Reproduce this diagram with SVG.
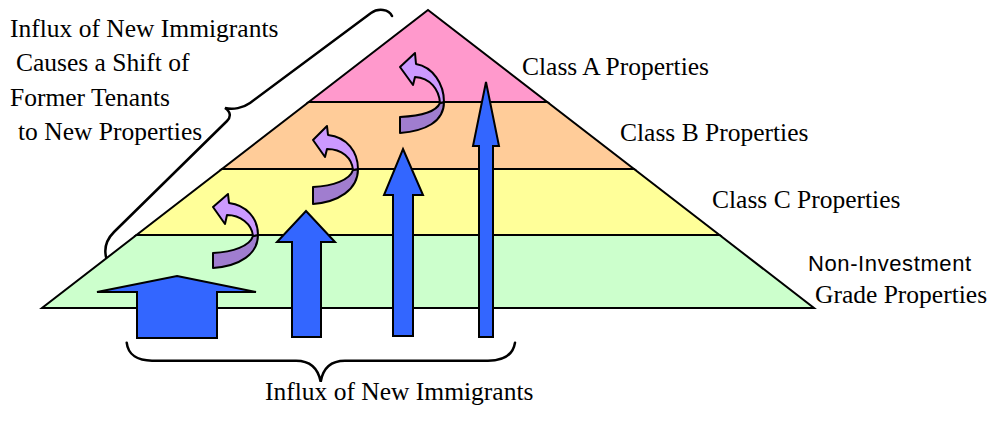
<svg xmlns="http://www.w3.org/2000/svg" width="990" height="435" viewBox="0 0 990 435">
<style>
.band{stroke:#000;stroke-width:2;stroke-linejoin:miter}
.blue{fill:#3366FF;stroke:#000;stroke-width:2;stroke-linejoin:miter}
.lite{fill:#CC99FF;stroke:#000;stroke-width:2;stroke-linejoin:round}
.dark{fill:#A07DCF;stroke:#000;stroke-width:2;stroke-linejoin:round}
.brace{fill:none;stroke:#000;stroke-width:2.5;stroke-linecap:round}
.t{font-family:"Liberation Serif","Times New Roman",serif;font-size:25.5px;fill:#000}
.s{font-family:"Liberation Sans",Arial,sans-serif;font-size:22px;fill:#000;letter-spacing:0.6px}
</style>
<rect width="990" height="435" fill="#fff"/>
<g id="pyramid">
<polygon id="band-a" class="band" fill="#FF99CC" points="428,10 547.2,102 308.8,102"/>
<polygon id="band-b" class="band" fill="#FFCC99" points="308.8,102 547.2,102 634,169 222,169"/>
<polygon id="band-c" class="band" fill="#FFFF99" points="222,169 634,169 719.5,235 136.5,235"/>
<polygon id="band-d" class="band" fill="#CCFFCC" points="136.5,235 719.5,235 814,308 42,308"/>
</g>
<g id="connectors">
<polygon class="blue" points="177,276 256,292 217,292 217,338 137,338 137,292 97,292"/>
<polygon class="blue" points="306,211 335,242 321,242 321,337 292,337 292,242 277,242"/>
<polygon class="blue" points="403,149 423,195 413,195 413,336 393,336 393,195 384,195"/>
<polygon class="blue" points="486,82 499,146 493,146 493,337 479,337 479,146 473,146"/>
<path class="dark" d="M258,235 C258,254 240,266 213,268 L213,253 C233,252 250,246 253,236 Z"/>
<path class="lite" d="M213,207 L228,194 L229,203 C246,205 258,218 258,235 L253,236 C252,224 240,215 227,215 L225,224 Z"/>
<path class="dark" d="M358,169 C358,190 338,202 313,204 L313,187 C333,186 350,180 353,170 Z"/>
<path class="lite" d="M313,140 L327,126 L328,135 C347,137 358,152 358,169 L353,170 C352,158 342,149 327,149 L325,157 Z"/>
<path class="dark" d="M444,102 C444,122 425,131 400,133 L400,117 C420,116 436,112 440,103 Z"/>
<path class="lite" d="M400,67 L415,53 L416,64 C433,67 444,84 444,102 L440,103 C439,89 430,78 415,77 L413,85 Z"/>
<path class="brace" d="M392,16 C389,9 378,8 371,13 L250,103 C243,108 233,110 225,108 C231,112 231,117 227,121 L114,232 C107,239 104,248 106,257"/>
<path class="brace" d="M126.7,342.7 C128,355 138,360.7 152,360.7 L296,360.7 C310,360.7 318,368 320.7,381.7 C323,368 331,360.7 345,360.7 L488,360.7 C503,360.7 513,355 515,342.7"/>
</g>
<g id="labels">
<text id="label-shift" class="t"><tspan x="10" y="37">Influx of New Immigrants</tspan><tspan x="16" y="71">Causes a Shift of</tspan><tspan x="10" y="106">Former Tenants</tspan><tspan x="18" y="140">to New Properties</tspan></text>
<text id="label-a" class="t" x="522" y="75">Class A Properties</text>
<text id="label-b" class="t" x="620" y="141">Class B Properties</text>
<text id="label-c" class="t" x="712" y="208">Class C Properties</text>
<text id="label-d1" class="s" x="808" y="271">Non-Investment</text>
<text id="label-d2" class="t" x="815" y="303">Grade Properties</text>
<text id="label-bottom" class="t" x="265" y="400">Influx of New Immigrants</text>
</g>
</svg>
